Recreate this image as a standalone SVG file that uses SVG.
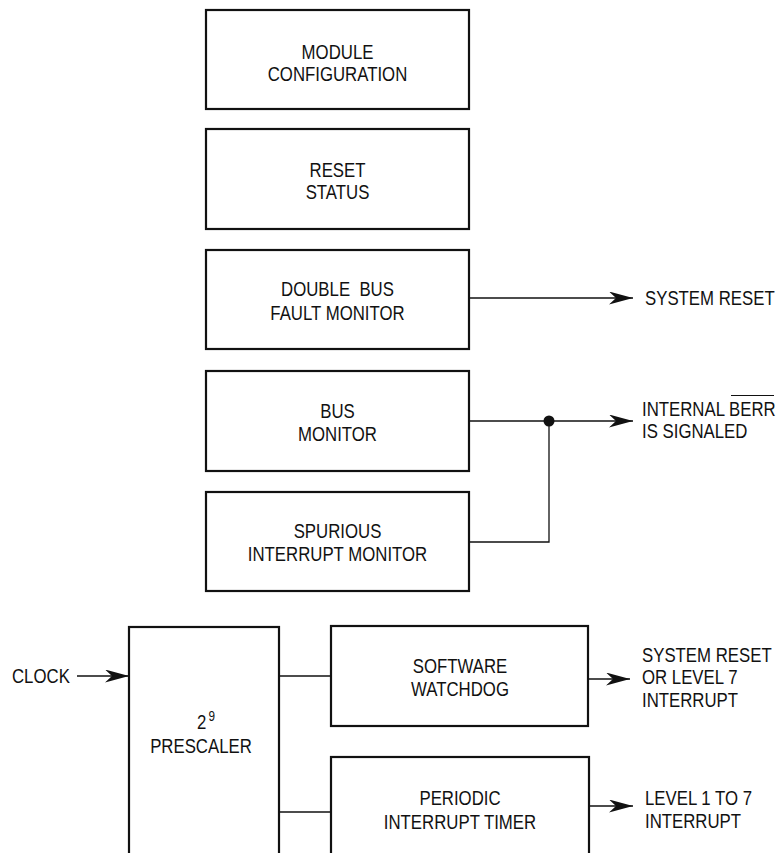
<svg xmlns="http://www.w3.org/2000/svg" width="781" height="853" viewBox="0 0 781 853">
<style>
.box{fill:#fff;stroke:#111;stroke-width:2.2}
.t{font-family:"Liberation Sans",Arial,sans-serif;font-size:20px;fill:#111}
.c{text-anchor:middle}
.w{fill:none;stroke:#111;stroke-width:1.3}
</style>
<defs>
<marker id="ah" viewBox="0 0 24 13" markerWidth="24" markerHeight="13" refX="24" refY="6.5" markerUnits="userSpaceOnUse" orient="auto">
<path d="M0,0 L24,6.5 L0,13 L7,6.5 Z" fill="#111"/>
</marker>
</defs>
<rect width="781" height="853" fill="#fff"/>
<g id="module-config">
<rect class="box" x="206" y="10" width="263" height="99"/>
<text class="t c" transform="translate(337.5 59) scale(0.84 1)"><tspan x="0" y="0">MODULE</tspan><tspan x="0" y="22">CONFIGURATION</tspan></text>
</g>
<g id="reset-status">
<rect class="box" x="206" y="129" width="263" height="100"/>
<text class="t c" transform="translate(337.5 177) scale(0.84 1)"><tspan x="0" y="0">RESET</tspan><tspan x="0" y="22">STATUS</tspan></text>
</g>
<g id="double-bus-fault">
<rect class="box" x="206" y="250" width="263" height="99"/>
<text class="t c" transform="translate(337.5 296) scale(0.84 1)" xml:space="preserve"><tspan x="0" y="0">DOUBLE  BUS</tspan><tspan x="0" y="24">FAULT MONITOR</tspan></text>
</g>
<g id="bus-monitor">
<rect class="box" x="206" y="371" width="263" height="100"/>
<text class="t c" transform="translate(337.5 418) scale(0.84 1)"><tspan x="0" y="0">BUS</tspan><tspan x="0" y="23">MONITOR</tspan></text>
</g>
<g id="spurious-monitor">
<rect class="box" x="206" y="492" width="263" height="99"/>
<text class="t c" transform="translate(337.5 538) scale(0.84 1)"><tspan x="0" y="0">SPURIOUS</tspan><tspan x="0" y="23">INTERRUPT MONITOR</tspan></text>
</g>
<g id="prescaler">
<rect class="box" x="129" y="627" width="150" height="240"/>
<text class="t" transform="translate(197 729) scale(0.84 1)">2</text>
<text class="t" style="font-size:14px" transform="translate(208.5 721) scale(0.84 1)">9</text>
<text class="t c" transform="translate(201 753) scale(0.84 1)">PRESCALER</text>
</g>
<g id="software-watchdog">
<rect class="box" x="331" y="626" width="257" height="100"/>
<text class="t c" transform="translate(460 673) scale(0.84 1)"><tspan x="0" y="0">SOFTWARE</tspan><tspan x="0" y="23">WATCHDOG</tspan></text>
</g>
<g id="periodic-timer">
<rect class="box" x="331" y="757" width="258" height="120"/>
<text class="t c" transform="translate(460 805) scale(0.84 1)"><tspan x="0" y="0">PERIODIC</tspan><tspan x="0" y="24">INTERRUPT TIMER</tspan></text>
</g>
<g id="labels">
<text class="t" transform="translate(12 683) scale(0.84 1)">CLOCK</text>
<text class="t" transform="translate(645 305) scale(0.84 1)">SYSTEM RESET</text>
<text class="t" transform="translate(642 416) scale(0.84 1)"><tspan x="0" y="0">INTERNAL BERR</tspan><tspan x="0" y="22">IS SIGNALED</tspan></text>
<line x1="731" y1="395.5" x2="774" y2="395.5" stroke="#111" stroke-width="1.2"/>
<text class="t" transform="translate(642 662) scale(0.84 1)"><tspan x="0" y="0">SYSTEM RESET</tspan><tspan x="0" y="22">OR LEVEL 7</tspan><tspan x="0" y="45">INTERRUPT</tspan></text>
<text class="t" transform="translate(645 805) scale(0.84 1)"><tspan x="0" y="0">LEVEL 1 TO 7</tspan><tspan x="0" y="23">INTERRUPT</tspan></text>
</g>
<g id="connectors">
<path class="w" d="M469,298 H633" marker-end="url(#ah)"/>
<path class="w" d="M469,421 H633" marker-end="url(#ah)"/>
<path class="w" d="M469,542 H549 V421"/>
<circle cx="549" cy="421" r="5.5" fill="#111"/>
<path class="w" d="M77,676 H129" marker-end="url(#ah)"/>
<path class="w" d="M279,676 H331"/>
<path class="w" d="M279,812 H331"/>
<path class="w" d="M588,679 H630" marker-end="url(#ah)"/>
<path class="w" d="M589,806 H633" marker-end="url(#ah)"/>
</g>
</svg>
